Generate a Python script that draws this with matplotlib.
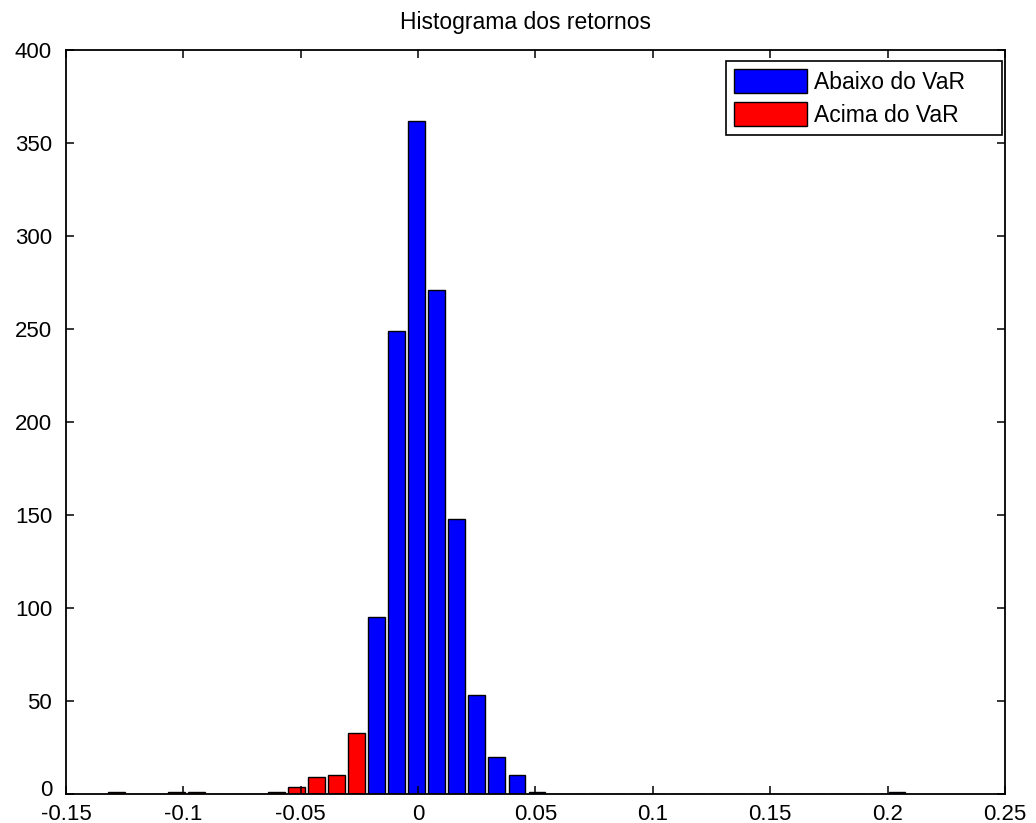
import matplotlib
matplotlib.use("Agg")
import matplotlib.pyplot as plt
import matplotlib.transforms as mtransforms
import numpy as np

# histograma de 40 classes (centros)
primeiro_centro = -0.1285
ultimo_centro = 0.2040
n_classes = 40

# contagens por classe, da esquerda para a direita
contagens = [1, 0, 0, 1, 1, 0, 0, 0, 1, 4,
             9, 10, 33, 95, 249, 362, 271, 148, 53, 20,
             10, 1, 0, 0, 0, 0, 0, 0, 0, 0,
             0, 0, 0, 0, 0, 0, 0, 0, 0, 1]

# classes 0..12 ficam na cauda (vermelho), o resto em azul
ultima_classe_var = 12

rotulos = ["Abaixo do VaR", "Acima do VaR"]
titulo = "Histograma dos retornos"

plt.rcParams["font.family"] = ["Liberation Sans", "DejaVu Sans"]

centros = np.linspace(primeiro_centro, ultimo_centro, n_classes)
largura = (centros[1] - centros[0]) * 0.82
contagens = np.array(contagens)

acima = np.arange(n_classes) > ultima_classe_var

fig = plt.figure(figsize=(10.36, 8.23), dpi=100)
ax = fig.add_axes([0.0637, 0.0352, 0.9063, 0.904])

ax.bar(centros[acima], contagens[acima], width=largura, color="#0000ff",
       edgecolor="black", linewidth=1.0, label=rotulos[0])
ax.bar(centros[~acima], contagens[~acima], width=largura, color="#ff0000",
       edgecolor="black", linewidth=1.0, label=rotulos[1])

ax.set_xlim(-0.15, 0.25)
ax.set_ylim(0, 400)
ax.set_xticks(np.arange(-0.15, 0.2501, 0.05))
ax.set_xticklabels(["-0.15", "-0.1", "-0.05", "0", "0.05", "0.1", "0.15", "0.2", "0.25"])
ax.set_yticks(np.arange(0, 401, 50))

for s in ax.spines.values():
    s.set_linewidth(1.3)
    s.set_color("black")

ax.tick_params(axis="both", direction="in", length=6, width=1.1,
               top=True, right=True, labelsize=16)
ax.tick_params(axis="x", pad=7)
ax.tick_params(axis="y", pad=10)

# sobe um pouco o "0" do eixo y para nao colar no "-0.15"
desloc = mtransforms.ScaledTranslation(0, 4 / 72, fig.dpi_scale_trans)
rot0 = ax.get_yticklabels()[0]
rot0.set_transform(rot0.get_transform() + desloc)

ax.set_title(titulo, fontsize=16.5, pad=15, x=0.489)

# legenda larga como no original
leg = ax.legend(loc="upper right", bbox_to_anchor=(0.7029, 0.5, 0.2939, 0.485),
                mode="expand", borderaxespad=0, fontsize=16.5, handlelength=3.2,
                handleheight=1.25, handletextpad=0.3, labelspacing=0.35,
                borderpad=0.35, fancybox=False, framealpha=1)
leg.get_frame().set_edgecolor("black")
leg.get_frame().set_linewidth(1.2)

fig.savefig("out.png", dpi=100)
